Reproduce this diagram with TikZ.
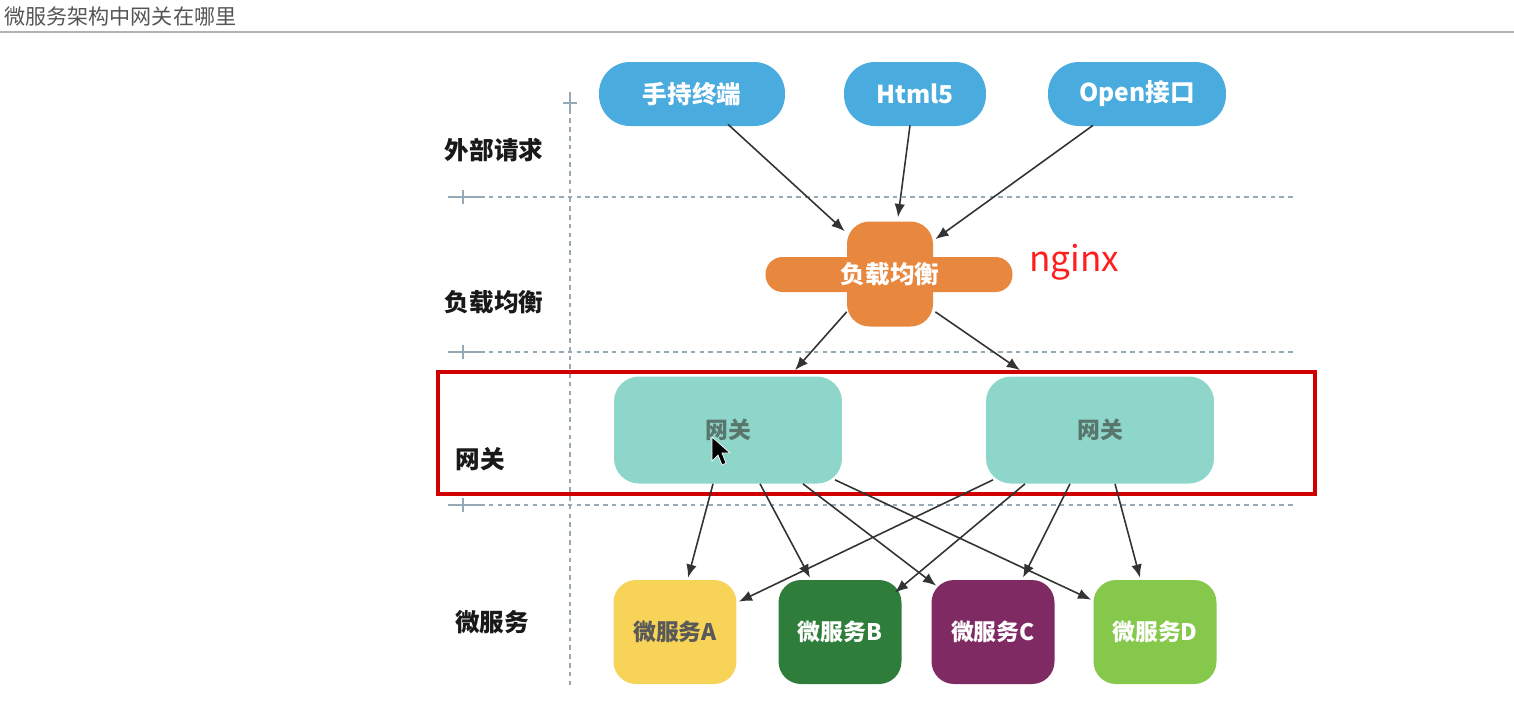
\documentclass[tikz,border=0pt]{standalone}
\usepackage{fontspec}
\newfontfamily\cjk{Noto Sans CJK SC}
\usetikzlibrary{calc,arrows.meta}

\definecolor{clientblue}{RGB}{74,171,222}
\definecolor{lborange}{RGB}{232,135,62}
\definecolor{gwteal}{RGB}{143,214,202}
\definecolor{gwtext}{RGB}{88,118,108}
\definecolor{msyellow}{RGB}{247,212,88}
\definecolor{msdarkgreen}{RGB}{46,125,58}
\definecolor{mspurple}{RGB}{127,42,99}
\definecolor{mslightgreen}{RGB}{133,200,75}
\definecolor{boxred}{RGB}{208,0,0}
\definecolor{nginxred}{RGB}{255,30,30}
\definecolor{gridgray}{RGB}{150,170,182}
\definecolor{titlegray}{RGB}{85,85,85}

\begin{document}
\begin{tikzpicture}[x=0.02cm,y=-0.02cm,
    grid/.style={draw=gridgray, line width=0.7pt, dash pattern=on 2.6pt off 2.4pt},
    gridsolid/.style={draw=gridgray, line width=0.7pt},
    rowlabel/.style={font=\cjk\bfseries\fontsize{14pt}{16pt}\selectfont, text=black!90},
    client/.style={fill=clientblue, text=white, rounded corners=0.62cm, minimum height=1.28cm,
        font=\cjk\bfseries\fontsize{14pt}{16pt}\selectfont},
    gw/.style={fill=gwteal, text=gwtext, rounded corners=0.5cm, minimum width=4.56cm, minimum height=2.14cm,
        font=\cjk\bfseries\fontsize{13pt}{15pt}\selectfont},
    ms/.style={rounded corners=0.45cm, minimum width=2.46cm, minimum height=2.08cm, text=white,
        font=\cjk\bfseries\fontsize{13pt}{15pt}\selectfont},
    arr/.style={draw=black!80, line width=0.9pt, -{Latex[length=7.5pt,width=6pt]}}]
    \useasboundingbox (0,0) rectangle (1514,708);

    % title and rule
    \node[anchor=west, inner sep=0, text=titlegray, font=\cjk\fontsize{12pt}{14pt}\selectfont] (title) at (4,16) {微服务架构中网关在哪里};
    \draw[black!30, line width=1.1pt] (0,32) -- (1514,32);

    % dashed grid
    \draw[grid] (570,92) -- (570,686);
    \draw[gridsolid] (563,103) -- (577,103);
    \draw[gridsolid] (570,94) -- (570,112);
    \foreach \y in {197,352,505} {
        \draw[grid] (480,\y) -- (1295,\y);
        \draw[gridsolid] (448,\y) -- (480,\y);
        \draw[gridsolid] (463,\y-7) -- (463,\y+7);
    }

    % row labels
    \node[rowlabel] (lblreq) at (494,150) {外部请求};
    \node[rowlabel] (lbllb) at (494,302) {负载均衡};
    \node[rowlabel] (lblgw) at (480,459) {网关};
    \node[rowlabel] (lblms) at (492,622) {微服务};

    % clients
    \node[client, minimum width=3.72cm] (hand) at (692,94) {手持终端};
    \node[client, minimum width=2.84cm] (html) at (915,94) {Html5};
    \node[client, minimum width=3.56cm] (open) at (1137,94) {Open接口};

    % load balancer
    \node[fill=lborange, rounded corners=0.34cm, minimum width=4.94cm, minimum height=0.7cm] (lbbar) at (889,274.5) {};
    \node[fill=lborange, rounded corners=0.45cm, minimum width=1.72cm, minimum height=2.1cm] (lb) at (890,274) {};
    \node[text=white, font=\cjk\bfseries\fontsize{14pt}{16pt}\selectfont] (lbtext) at (lb) {负载均衡};
    \node[text=nginxred, font=\cjk\fontsize{20pt}{22pt}\selectfont] (nginx) at (1074,262) {nginx};

    % gateways
    \node[gw] (gwL) at (728,430) {网关};
    \node[gw] (gwR) at (1100,430) {网关};
    \draw[boxred, line width=2.8pt] (438,372) rectangle (1315,494);

    % micro services
    \node[ms, fill=msyellow, text=black!65] (msA) at (675,632) {微服务A};
    \node[ms, fill=msdarkgreen] (msB) at (840,632) {微服务B};
    \node[ms, fill=mspurple] (msC) at (993,632) {微服务C};
    \node[ms, fill=mslightgreen] (msD) at (1155,632) {微服务D};

    % requests to load balancer
    \draw[arr] ($(hand.south)+(36,-2)$) -- ($(lb.north west)+(-2,10)$);
    \draw[arr] ($(html.south)+(-5,-1)$) -- ($(lb.north)+(8,-4)$);
    \draw[arr] ($(open.south)+(-44,-1)$) -- ($(lb.north east)+(2,18)$);

    % load balancer to gateways
    \draw[arr] ($(lb.south west)+(0,-15)$) -- ($(gwL.north)+(67,-6)$);
    \draw[arr] ($(lb.south east)+(2,-15)$) -- ($(gwR.north)+(-80,-6)$);

    % gateways to services
    \draw[arr] ($(gwL.south)+(-15,0)$) -- ($(msA.north)+(13,-2)$);
    \draw[arr] ($(gwL.south)+(32,0)$) -- ($(msB.north)+(-30,-2)$);
    \draw[arr] ($(gwL.south)+(75,0)$) -- ($(msC.north west)+(5,6)$);
    \draw[arr] ($(gwL.south)+(107,-4)$) -- ($(msD.north west)+(-2,20)$);
    \draw[arr] ($(gwR.south)+(-107,-4)$) -- ($(msA.north east)+(2,22)$);
    \draw[arr] ($(gwR.south)+(-75,0)$) -- ($(msB.north east)+(-7,13)$);
    \draw[arr] ($(gwR.south)+(-30,0)$) -- ($(msC.north)+(30,-2)$);
    \draw[arr] ($(gwR.south)+(15,0)$) -- ($(msD.north)+(-15,-2)$);

    % mouse pointer
    \filldraw[fill=black, draw=white, line width=0.4pt] (712,437) -- ++(0,24) -- ++(6,-6) -- ++(4,10) -- ++(4,-2) -- ++(-4,-10) -- ++(8,0) -- cycle;
\end{tikzpicture}
\end{document}
